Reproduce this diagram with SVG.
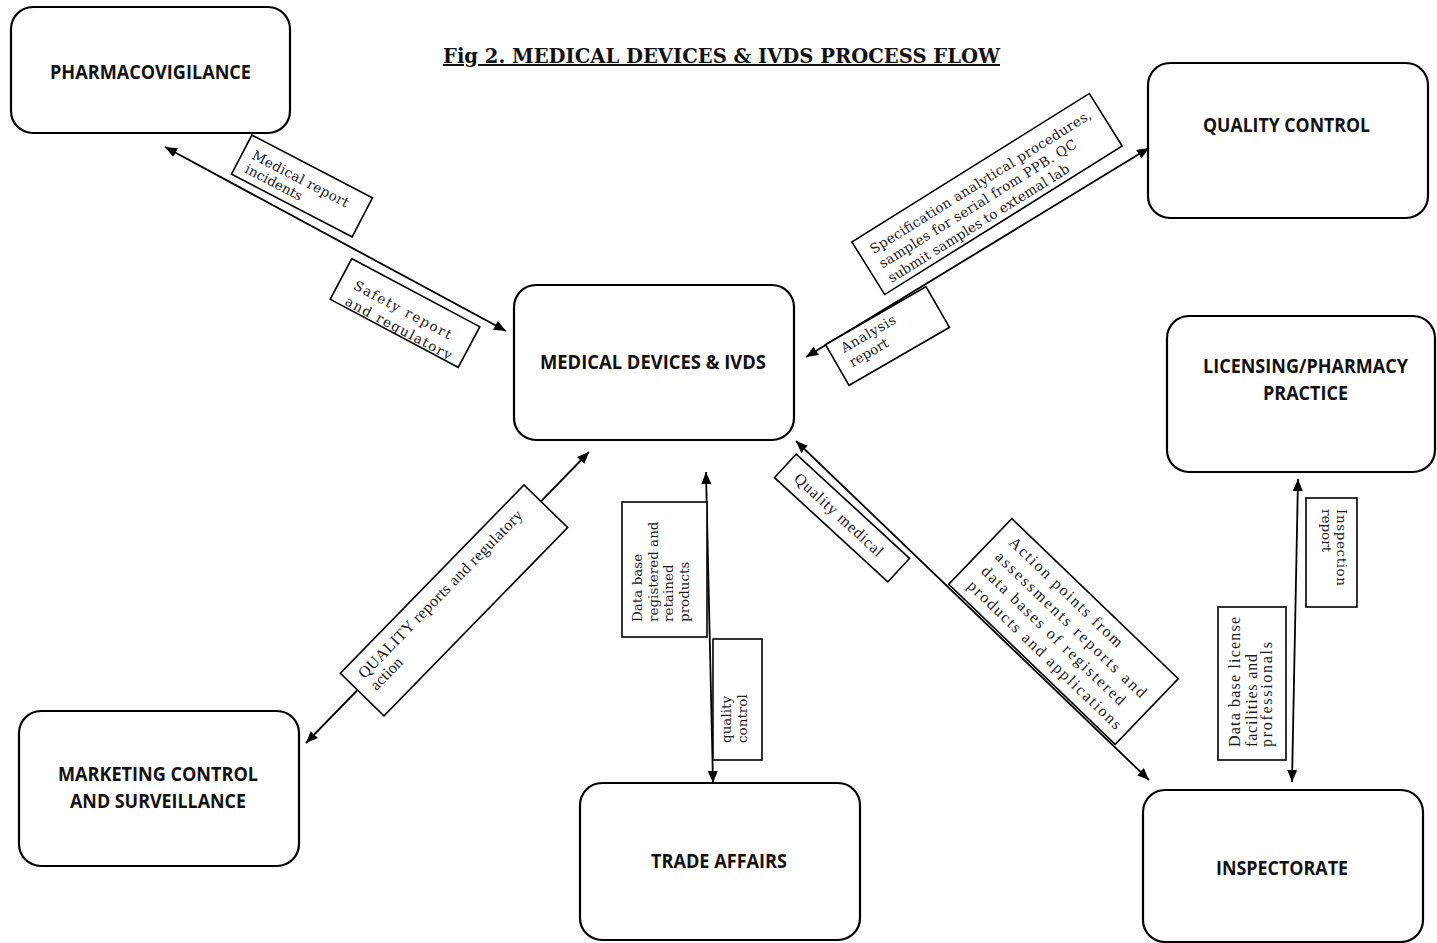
<svg xmlns="http://www.w3.org/2000/svg" width="1437" height="943" viewBox="0 0 1437 943">
  <style>
    .node { fill: #ffffff; stroke: #000000; stroke-width: 2.2; }
    .ntxt { font-family: "Open Sans", "Liberation Sans", sans-serif; font-weight: 700; font-size: 19.5px; fill: #111111; text-anchor: middle; }
    .lbox { fill: #ffffff; stroke: #000000; stroke-width: 1.6; }
    .bk { font-family: "DejaVu Serif", "Liberation Serif", serif; font-size: 13.5px; fill: #1a1a1a; }
    .tm { font-family: "Liberation Serif", "Times New Roman", serif; font-size: 16px; fill: #1a1a1a; }
    .conn { stroke: #000000; stroke-width: 1.8; fill: none; marker-start: url(#arrow); marker-end: url(#arrow); }
    .title { font-family: "DejaVu Serif", "Liberation Serif", serif; font-weight: 700; font-size: 20px; fill: #111111; text-decoration: underline; }
  </style>
  <defs>
    <marker id="arrow" viewBox="0 0 12 10" refX="12" refY="5" markerWidth="12" markerHeight="10" markerUnits="userSpaceOnUse" orient="auto-start-reverse">
      <path d="M0,0 L12,5 L0,10 z" fill="#000000"/>
    </marker>
    <clipPath id="clipSafety">
      <rect x="-72.5" y="-23" width="145" height="46"/>
    </clipPath>
  </defs>

  <rect x="0" y="0" width="1437" height="943" fill="#ffffff"/>

  <text class="title" x="443" y="63" textLength="557" lengthAdjust="spacingAndGlyphs">Fig 2. MEDICAL DEVICES &amp; IVDS PROCESS FLOW</text>

  <!-- Nodes -->
  <g id="pharmacovigilance">
    <rect class="node" x="11" y="7" width="279" height="126" rx="22"/>
    <text class="ntxt" x="150.5" y="79" textLength="201" lengthAdjust="spacingAndGlyphs">PHARMACOVIGILANCE</text>
  </g>
  <g id="quality-control">
    <rect class="node" x="1148" y="63" width="280" height="155" rx="22"/>
    <text class="ntxt" x="1286.5" y="132" textLength="167" lengthAdjust="spacingAndGlyphs">QUALITY CONTROL</text>
  </g>
  <g id="medical-devices">
    <rect class="node" x="514" y="285" width="280" height="155" rx="22"/>
    <text class="ntxt" x="653" y="369" textLength="226" lengthAdjust="spacingAndGlyphs">MEDICAL DEVICES &amp; IVDS</text>
  </g>
  <g id="licensing">
    <rect class="node" x="1167" y="316" width="268" height="156" rx="22"/>
    <text class="ntxt" x="1305.5" y="373" textLength="205" lengthAdjust="spacingAndGlyphs">LICENSING/PHARMACY</text>
    <text class="ntxt" x="1305.5" y="400" textLength="85" lengthAdjust="spacingAndGlyphs">PRACTICE</text>
  </g>
  <g id="marketing-control">
    <rect class="node" x="19" y="711" width="280" height="155" rx="22"/>
    <text class="ntxt" x="158" y="781" textLength="200" lengthAdjust="spacingAndGlyphs">MARKETING CONTROL</text>
    <text class="ntxt" x="158" y="808" textLength="176" lengthAdjust="spacingAndGlyphs">AND SURVEILLANCE</text>
  </g>
  <g id="trade-affairs">
    <rect class="node" x="580" y="783" width="280" height="157" rx="22"/>
    <text class="ntxt" x="719" y="868" textLength="136" lengthAdjust="spacingAndGlyphs">TRADE AFFAIRS</text>
  </g>
  <g id="inspectorate">
    <rect class="node" x="1143" y="790" width="280" height="152" rx="22"/>
    <text class="ntxt" x="1282" y="875" textLength="132" lengthAdjust="spacingAndGlyphs">INSPECTORATE</text>
  </g>

  <!-- Connectors -->
  <g id="connectors">
    <line class="conn" x1="165" y1="147" x2="506" y2="331"/>
    <line class="conn" x1="806" y1="357" x2="1149" y2="148"/>
    <line class="conn" x1="306" y1="743" x2="589" y2="452"/>
    <line class="conn" x1="706" y1="472" x2="713" y2="783"/>
    <line class="conn" x1="796" y1="441" x2="1149" y2="780"/>
    <line class="conn" x1="1298" y1="479" x2="1292" y2="782"/>
  </g>

  <!-- Connector labels -->
  <g id="labels">
    <g transform="translate(302,186) rotate(27.5)">
      <rect class="lbox" x="-68" y="-22" width="136" height="44"/>
      <text class="bk" font-size="14.5" x="-58" y="-1" textLength="107">Medical report</text>
      <text class="bk" font-size="14.5" x="-58" y="14.5">incidents</text>
    </g>
    <g transform="translate(405,313) rotate(28)">
      <rect class="lbox" x="-72.5" y="-23" width="145" height="46"/>
      <g clip-path="url(#clipSafety)">
        <text class="bk" font-size="16.5" x="-58" y="3" textLength="109">Safety report</text>
        <text class="bk" font-size="16.5" x="-58" y="21" textLength="119">and regulatory</text>
      </g>
    </g>
    <g transform="translate(987,194) rotate(-32)">
      <rect class="lbox" x="-140" y="-31" width="280" height="62"/>
      <text class="bk" x="-128" y="-9" textLength="258">Specification analytical procedures,</text>
      <text class="bk" x="-128" y="8" textLength="230">samples for serial from PPB. QC</text>
      <text class="bk" x="-128" y="25" textLength="211">submit samples to extemal lab</text>
    </g>
    <g transform="translate(887.5,336) rotate(-30)">
      <rect class="lbox" x="-58" y="-23.5" width="116" height="47"/>
      <text class="bk" font-size="14" x="-46" y="-7" textLength="61">Analysis</text>
      <text class="bk" font-size="14" x="-46" y="9.5">report</text>
    </g>
    <g transform="translate(454,600.4) rotate(-45.7)">
      <rect class="lbox" x="-131.5" y="-30.5" width="263" height="61"/>
      <text class="tm" x="-119" y="-9" textLength="228">QUALITY reports and regulatory</text>
      <text class="tm" x="-119" y="8">action</text>
    </g>
    <g>
      <rect class="lbox" x="622" y="502" width="85" height="135"/>
      <g transform="rotate(-90)">
        <text class="bk" font-size="14" x="-622" y="642">Data base</text>
        <text class="bk" font-size="14" x="-622" y="657.5">registered and</text>
        <text class="bk" font-size="14" x="-622" y="673">retained</text>
        <text class="bk" font-size="14" x="-622" y="688.5">products</text>
      </g>
    </g>
    <g>
      <rect class="lbox" x="713" y="639" width="49" height="121"/>
      <g transform="rotate(-90)">
        <text class="bk" x="-743" y="731">quality</text>
        <text class="bk" x="-743" y="746.5">control</text>
      </g>
    </g>
    <g transform="translate(842,518) rotate(42.6)">
      <rect class="lbox" x="-77" y="-16" width="154" height="32"/>
      <text class="tm" font-size="16.5" x="-62" y="5" textLength="115">Quality medical</text>
    </g>
    <g transform="translate(1063.5,631.5) rotate(43.9)">
      <rect class="lbox" x="-115.5" y="-45.5" width="231" height="91"/>
      <text class="tm" font-size="17" x="-101" y="-25" textLength="151">Action points from</text>
      <text class="tm" font-size="17" x="-101" y="-5" textLength="203">assessments reports and</text>
      <text class="tm" font-size="17" x="-101" y="15" textLength="193">data bases of registered</text>
      <text class="tm" font-size="17" x="-101" y="35" textLength="207">products and applications</text>
    </g>
    <g>
      <rect class="lbox" x="1306" y="498" width="51" height="109"/>
      <g transform="rotate(90)">
        <text class="bk" font-size="15" x="509" y="-1337" textLength="77">Inspection</text>
        <text class="bk" font-size="15" x="509" y="-1322">report</text>
      </g>
    </g>
    <g>
      <rect class="lbox" x="1218" y="607" width="68" height="153"/>
      <g transform="rotate(-90)">
        <text class="tm" font-size="17" x="-747" y="1240" textLength="130">Data base license</text>
        <text class="tm" font-size="17" x="-747" y="1256.5" textLength="93">facilities and</text>
        <text class="tm" font-size="17" x="-747" y="1272" textLength="105">professionals</text>
      </g>
    </g>
  </g>
</svg>
